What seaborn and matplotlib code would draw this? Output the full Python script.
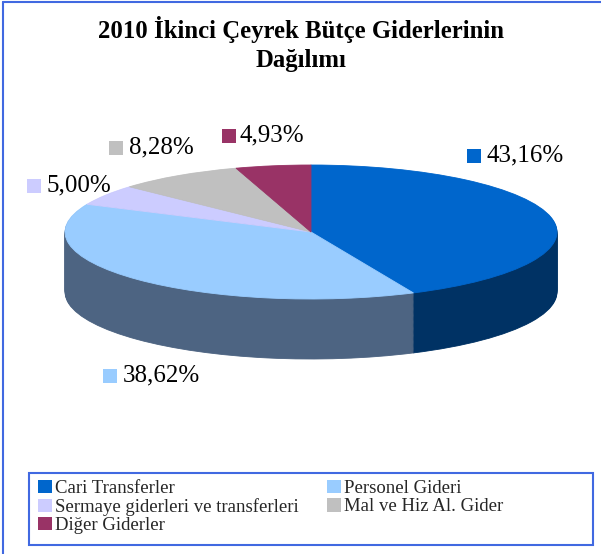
import numpy as np
import matplotlib
matplotlib.use("Agg")
import matplotlib.pyplot as plt
import matplotlib.patches as mpatches
from matplotlib.lines import Line2D
import seaborn as sns

# ---- data ----
categories = ["Cari Transferler", "Personel Gideri",
              "Sermaye giderleri ve transferleri", "Mal ve Hiz Al. Gider",
              "Diğer Giderler"]
shares = [43.16, 38.62, 5.00, 8.28, 4.93]
pct_labels = ["43,16%", "38,62%", "5,00%", "8,28%", "4,93%"]
title_text = "2010 İkinci Çeyrek Bütçe Giderlerinin\nDağılımı"

# ---- style ----
top_colors = ["#0066CC", "#99CCFF", "#CCCCFF", "#C0C0C0", "#993366"]
side_colors = ["#003264", "#4D6482", "#707090", "#6A6A6A", "#52203A"]
frame_color = "#4169E1"

sns.set_theme(style="white")
plt.rcParams['font.family'] = ['Liberation Serif', 'DejaVu Serif']

W, H = 601, 554
fig = plt.figure(figsize=(W / 100, H / 100), dpi=100)
ax = fig.add_axes([0, 0, 1, 1])

def fx(px):
    return px / W

def fy(py):
    return 1 - py / H

# geometry of the flattened pie (pixels)
cx_px, cy_px = 311, 232
rx_px, ry_px = 246, 67
depth_px = 60
depth = depth_px / ry_px

# side layers (extrusion) then top surface
offsets = np.linspace(depth, 0, 70)
for k, off in enumerate(offsets):
    cols = top_colors if k == len(offsets) - 1 else side_colors
    wedges, _ = ax.pie(shares, colors=cols, startangle=90, counterclock=False,
                       center=(0, -off), radius=1, frame=True,
                       wedgeprops=dict(linewidth=0.6, antialiased=True))
    for w, c in zip(wedges, cols):
        w.set_edgecolor(c)

ax.set_aspect('auto')
ax.set_xlim(-cx_px / rx_px, (W - cx_px) / rx_px)
ax.set_ylim(-(H - cy_px) / ry_px, cy_px / ry_px)
ax.axis('off')

# title
fig.text(0.5, fy(44), title_text, ha='center', va='center', fontsize=17.8,
         fontweight='bold', linespacing=1.3, color='black')

# data labels (square marker + value)
label_sq = [(467, 149), (103, 369), (27, 179), (109, 141), (222, 129)]
label_txt = [(487, 155), (123, 375), (47, 185), (129, 147), (240, 135)]
sq = 14
for i in range(len(shares)):
    x0, y0 = label_sq[i]
    fig.patches.append(mpatches.Rectangle((fx(x0), fy(y0 + sq)), sq / W, sq / H,
                                          transform=fig.transFigure,
                                          facecolor=top_colors[i], edgecolor='none'))
    tx, ty = label_txt[i]
    fig.text(fx(tx), fy(ty), pct_labels[i], ha='left', va='center',
             fontsize=18, color='black')

# figure frame (left and top edges)
fig.lines.append(Line2D([fx(2.5), fx(2.5)], [0, fy(1.5)], transform=fig.transFigure,
                        color=frame_color, lw=1.5))
fig.lines.append(Line2D([fx(2.5), 1], [fy(1.5), fy(1.5)], transform=fig.transFigure,
                        color=frame_color, lw=1.5))

# legend box
fig.patches.append(mpatches.Rectangle((fx(29), fy(545)), (593 - 29) / W, (545 - 473) / H,
                                      transform=fig.transFigure, facecolor='none',
                                      edgecolor=frame_color, lw=1.5))
order = [0, 2, 4, 1, 3]
handles = [mpatches.Patch(facecolor=top_colors[i], edgecolor='none') for i in order]
labels = [categories[i] for i in order]
fig.legend(handles, labels, ncol=2, loc='upper left',
           bbox_to_anchor=(fx(38), fy(480)), frameon=False, fontsize=13.5,
           handlelength=0.72, handleheight=0.72, handletextpad=0.2,
           columnspacing=1.5, labelspacing=0.05, borderpad=0, borderaxespad=0)

fig.savefig("out.png", dpi=100)
